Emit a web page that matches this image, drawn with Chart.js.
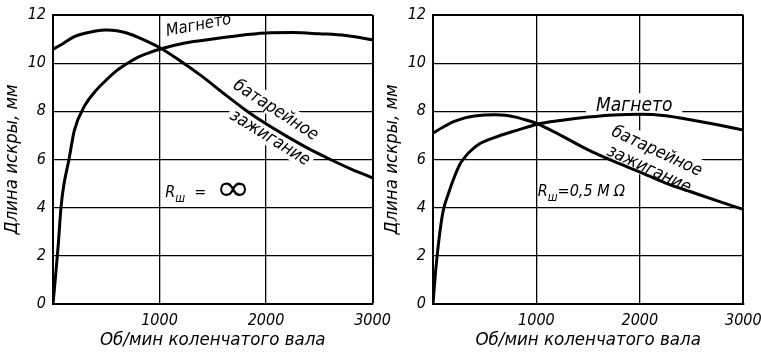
<!DOCTYPE html>
<html>
<head>
<meta charset="utf-8">
<script src="https://cdn.jsdelivr.net/npm/chart.js@4/dist/chart.umd.min.js"></script>
<style>
  html, body { margin: 0; padding: 0; background: #fff; }
  #wrap { position: relative; width: 761px; height: 354px; overflow: hidden; background: #fff; }
  canvas { position: absolute; top: 0; }
  #leftChart { left: 0; }
  #rightChart { left: 380px; }
</style>
</head>
<body>
<div id="wrap">
  <canvas id="leftChart" width="400" height="354"></canvas>
  <canvas id="rightChart" width="381" height="354"></canvas>
</div>
<script>
// Axis ticks
const rpmTicks = [0, 1000, 2000, 3000];
const sparkTicks = [0, 2, 4, 6, 8, 10, 12];

// Shunt resistance R = ∞ : magneto
const rpmMagnetoInf = [0, 25, 50, 75, 100, 150, 200, 300, 400, 500, 600, 700, 800, 900, 1000, 1250, 1500, 1750, 2000, 2250, 2500, 2750, 3000];
const sparkMagnetoInf = [0, 1.2, 2.5, 4.0, 4.9, 6.0, 7.2, 8.25, 8.85, 9.3, 9.7, 10.0, 10.25, 10.43, 10.58, 10.85, 11.0, 11.15, 11.25, 11.27, 11.22, 11.15, 10.97];

// Shunt resistance R = ∞ : battery ignition
const rpmBatteryInf = [0, 100, 200, 300, 400, 500, 600, 700, 800, 900, 1000, 1200, 1400, 1600, 1800, 2000, 2200, 2400, 2600, 2800, 3000];
const sparkBatteryInf = [10.58, 10.83, 11.1, 11.24, 11.34, 11.38, 11.35, 11.24, 11.07, 10.87, 10.65, 10.08, 9.45, 8.75, 8.08, 7.48, 6.95, 6.45, 6.01, 5.6, 5.24];

// Shunt resistance R = 0.5 MΩ : magneto
const rpmMagnetoHalf = [0, 20, 40, 70, 100, 150, 200, 260, 300, 350, 450, 620, 800, 940, 1000, 1250, 1500, 1750, 2000, 2250, 2500, 2750, 3000];
const sparkMagnetoHalf = [0, 1.1, 2.0, 3.1, 3.9, 4.6, 5.2, 5.8, 6.05, 6.3, 6.65, 6.95, 7.2, 7.38, 7.46, 7.63, 7.76, 7.85, 7.88, 7.82, 7.64, 7.44, 7.22];

// Shunt resistance R = 0.5 MΩ : battery ignition
const rpmBatteryHalf = [0, 100, 200, 300, 400, 500, 600, 700, 800, 900, 1000, 1100, 1250, 1500, 1750, 2000, 2250, 2500, 2750, 3000];
const sparkBatteryHalf = [7.1, 7.35, 7.57, 7.72, 7.81, 7.85, 7.86, 7.84, 7.76, 7.64, 7.5, 7.3, 6.97, 6.4, 5.92, 5.48, 5.02, 4.65, 4.28, 3.93];

const FONT = '"DejaVu Sans Condensed", "Liberation Sans Narrow", "DejaVu Sans", sans-serif';

function toPoints(xs, ys) {
  return xs.map((x, i) => ({ x: x, y: ys[i] }));
}

// Draws curve captions and the resistance note inside the plot area.
// Runs before the datasets so a white knockout can interrupt the grid
// while the curves stay on top.
const curveLabels = {
  id: 'curveLabels',
  beforeDatasetsDraw(chart, args, opts) {
    const { ctx } = chart;
    const xs = chart.scales.x, ys = chart.scales.y;
    (opts.items || []).forEach(item => {
      const px = xs.getPixelForValue(item.at[0]);
      const py = ys.getPixelForValue(item.at[1]);
      const parts = item.parts || [{ t: item.text }];
      ctx.save();
      ctx.translate(px, py);
      ctx.rotate((item.angle || 0) * Math.PI / 180);
      ctx.textBaseline = 'alphabetic';
      ctx.textAlign = 'left';
      let total = 0;
      const widths = parts.map(p => {
        ctx.font = 'italic ' + (p.size || item.size) + 'px ' + FONT;
        const w = ctx.measureText(p.t).width * (p.sx || 1);
        total += w;
        return w;
      });
      const base = item.size * 0.36;
      if (item.knockout) {
        const h = item.size * 1.15;
        ctx.fillStyle = '#fff';
        ctx.fillRect(-total / 2 - item.knockout, -h / 2, total + 2 * item.knockout, h);
      }
      ctx.fillStyle = '#000';
      let cx = -total / 2;
      parts.forEach((p, i) => {
        ctx.font = 'italic ' + (p.size || item.size) + 'px ' + FONT;
        ctx.save();
        ctx.translate(cx, base + (p.dy || 0));
        ctx.scale(p.sx || 1, 1);
        ctx.fillText(p.t, 0, 0);
        ctx.restore();
        cx += widths[i];
      });
      ctx.restore();
    });
  }
};

function makeChart(canvasId, magRpm, magVal, batRpm, batVal, items, rightPad) {
  const tickFont = { family: FONT, size: 16, style: 'italic' };
  const titleFont = { family: FONT, size: 18.5, style: 'italic' };
  return new Chart(document.getElementById(canvasId), {
    type: 'line',
    data: {
      datasets: [
        { label: 'Магнето', data: toPoints(magRpm, magVal) },
        { label: 'Батарейное зажигание', data: toPoints(batRpm, batVal) }
      ]
    },
    options: {
      responsive: false,
      animation: false,
      layout: { padding: { top: 15, right: rightPad, left: 0, bottom: 0 } },
      plugins: {
        legend: { display: false },
        tooltip: { enabled: false },
        curveLabels: { items: items }
      },
      elements: {
        point: { radius: 0 },
        line: { borderWidth: 3, borderColor: '#000', cubicInterpolationMode: 'monotone', fill: false }
      },
      scales: {
        x: {
          type: 'linear',
          min: 0,
          max: 3000,
          afterBuildTicks: s => { s.ticks = rpmTicks.map(v => ({ value: v })); },
          afterFit: s => { s.height = 50; s.paddingLeft = 0; s.paddingRight = 0; },
          grid: {
            color: '#000',
            lineWidth: c => (c.tick && c.tick.value === 3000) ? 2 : 1.3,
            drawTicks: false
          },
          border: { color: '#000', width: 2 },
          ticks: {
            padding: 7,
            color: '#000',
            font: tickFont,
            autoSkip: false,
            maxRotation: 0,
            callback: v => v === 0 ? '' : String(v)
          },
          title: {
            display: true,
            text: 'Об/мин коленчатого вала',
            color: '#000',
            font: titleFont,
            padding: { top: 0, bottom: 3 }
          }
        },
        y: {
          min: 0,
          max: 12,
          afterBuildTicks: s => { s.ticks = sparkTicks.map(v => ({ value: v })); },
          afterFit: s => { s.width = 53; s.paddingTop = 0; s.paddingBottom = 0; },
          grid: {
            color: '#000',
            lineWidth: c => (c.tick && c.tick.value === 12) ? 2 : 1.3,
            drawTicks: false
          },
          border: { color: '#000', width: 2 },
          ticks: {
            padding: 7,
            color: '#000',
            font: tickFont,
            autoSkip: false
          },
          title: {
            display: true,
            text: 'Длина искры, мм',
            color: '#000',
            font: titleFont,
            padding: { top: 1, bottom: 0 }
          }
        }
      }
    },
    plugins: [curveLabels]
  });
}

makeChart('leftChart', rpmMagnetoInf, sparkMagnetoInf, rpmBatteryInf, sparkBatteryInf, [
  { text: 'Магнето', at: [1365, 11.63], angle: -11, size: 16.5 },
  { text: 'батарейное', at: [2100, 8.1], angle: 33, size: 17.5, knockout: 3 },
  { text: 'зажигание', at: [2045, 6.95], angle: 32, size: 17.5, knockout: 3 },
  { at: [1455, 4.69], size: 16, parts: [
      { t: 'R' }, { t: 'ш', size: 12, dy: 5 }, { t: '  =  ' }, { t: '∞', size: 36, dy: 3, sx: 1.3 }
  ] }
], 27.5);

makeChart('rightChart', rpmMagnetoHalf, sparkMagnetoHalf, rpmBatteryHalf, sparkBatteryHalf, [
  { text: 'Магнето', at: [1945, 8.3], angle: 0, size: 19, knockout: 10 },
  { text: 'батарейное', at: [2170, 6.4], angle: 25, size: 17.5, knockout: 3 },
  { text: 'зажигание', at: [2095, 5.65], angle: 25, size: 17.5, knockout: 3 },
  { at: [1435, 4.72], size: 16, parts: [
      { t: 'R' }, { t: 'ш', size: 12, dy: 5 }, { t: '=0,5 M Ω' }
  ] }
], 17.7);
</script>
</body>
</html>
